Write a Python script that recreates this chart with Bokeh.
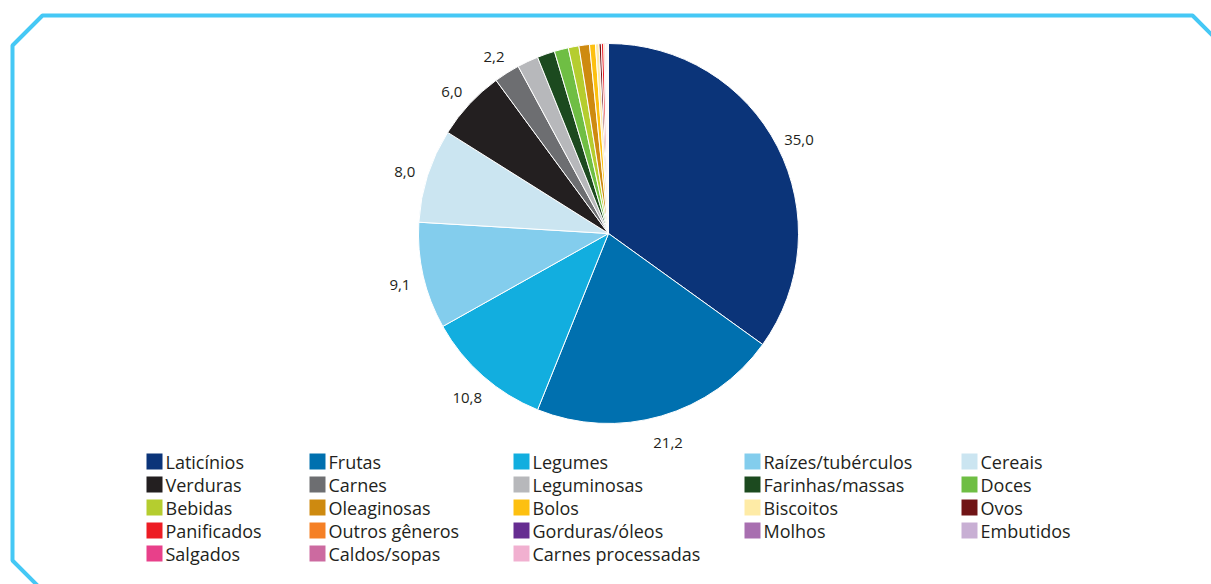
import numpy as np
from bokeh.plotting import figure
from bokeh.models import ColumnDataSource, Range1d
from bokeh.core.properties import value
from bokeh.embed import file_html
from bokeh.resources import INLINE

categories = ["Laticínios", "Frutas", "Legumes", "Raízes/tubérculos", "Cereais",
              "Verduras", "Carnes", "Leguminosas", "Farinhas/massas", "Doces",
              "Bebidas", "Oleaginosas", "Bolos", "Biscoitos", "Ovos",
              "Panificados", "Outros gêneros", "Gorduras/óleos", "Molhos", "Embutidos",
              "Salgados", "Caldos/sopas", "Carnes processadas"]
values = [35.0, 21.2, 10.8, 9.1, 8.0,
          6.0, 2.2, 1.8, 1.5, 1.2,
          0.9, 0.9, 0.5, 0.3, 0.2,
          0.2, 0.1, 0.05, 0.05, 0.05,
          0.05, 0.05, 0.05]
colors = ["#0B3479", "#0070AF", "#12AEDF", "#83CDED", "#CBE5F1",
          "#231F20", "#6D6E71", "#B7B8BB", "#1C4A1F", "#6FBE44",
          "#B5CD2F", "#CE8A10", "#FDC010", "#FEEBA6", "#701416",
          "#ED1C24", "#F58025", "#662D91", "#A86FB0", "#C8AFD4",
          "#E8408A", "#CC6AA0", "#F1B0D0"]

W, H = 1211, 584
def Y(py):
    return H - py

p = figure(width=W, height=H, x_range=Range1d(0, W), y_range=Range1d(0, H),
           output_backend="svg", toolbar_location=None,
           x_axis_location=None, y_axis_location=None, min_border=0)
p.grid.visible = False
p.outline_line_color = None
p.background_fill_color = "white"

# frame
p.line([38, 12, 12, 42, 1192, 1230], [Y(586), Y(560), Y(45), Y(15), Y(15), Y(53)],
       line_color="#45C8F5", line_width=4)

# pie
vals = np.array(values, dtype=float)
frac = vals / vals.sum()
cum = np.cumsum(frac)
start = np.pi / 2 - 2 * np.pi * (cum - frac)
end = np.pi / 2 - 2 * np.pi * cum
cx, cy, r = 608, Y(233), 190
src = ColumnDataSource(dict(start=start, end=end, color=colors))
p.wedge(x=cx, y=cy, radius=r, radius_units="screen", start_angle="start", end_angle="end",
        direction="clock", fill_color="color", line_color="white", line_width=1, source=src)

# labels
mid = np.pi / 2 - 2 * np.pi * (cum - frac / 2)
lab_r = 214
lx, ly, lt = [], [], []
for v, m in zip(values, mid):
    if v >= 2:
        lx.append(cx + lab_r * np.cos(m))
        ly.append(cy + lab_r * np.sin(m) - 4)
        lt.append(f"{v:.1f}".replace(".", ","))
p.text(lx, ly, text=lt, text_align="center", text_baseline="middle",
       text_font=value("Open Sans"), text_font_size="15px", text_color="#231F20")

# legend
col_x = [146, 309, 513, 744, 961]
row_y = [461, 484, 507, 530, 553]
sq = 16
lq_l, lq_r, lq_t, lq_b, tx, ty = [], [], [], [], [], []
for i, c in enumerate(categories):
    x0 = col_x[i % 5]
    y0 = row_y[i // 5]
    lq_l.append(x0); lq_r.append(x0 + sq)
    lq_t.append(Y(y0 - sq / 2)); lq_b.append(Y(y0 + sq / 2))
    tx.append(x0 + sq + 3); ty.append(Y(y0))
p.quad(left=lq_l, right=lq_r, top=lq_t, bottom=lq_b, fill_color=colors, line_color=None)
p.text(tx, ty, text=categories, text_align="left", text_baseline="middle",
       text_font=value("Open Sans"), text_font_size="18px", text_color="#231F20")

open("out.html", "w").write(file_html(p, INLINE))
